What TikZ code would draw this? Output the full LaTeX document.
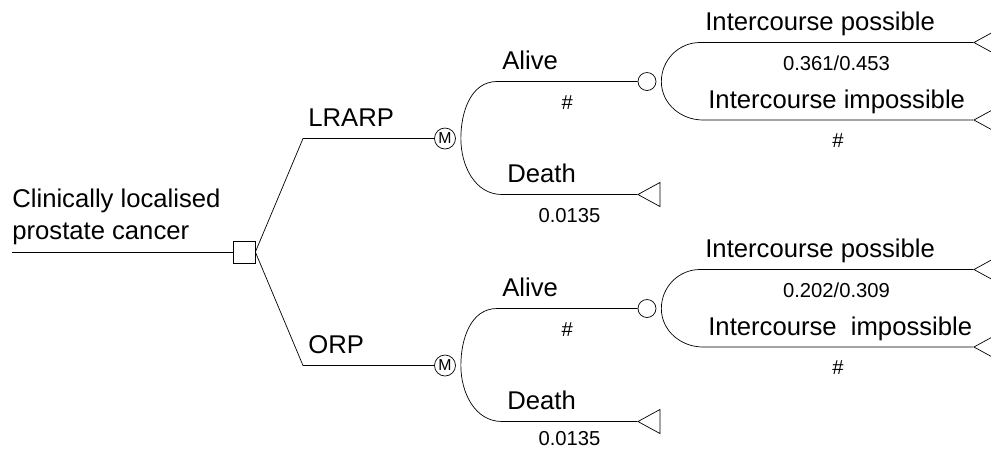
\documentclass[tikz,border=0pt]{standalone}
\usepackage{fontspec}
\setmainfont{Liberation Sans}
\usetikzlibrary{positioning, shapes.geometric}

\tikzset{
  decision/.style={draw, rectangle, minimum size=0.44cm, inner sep=0pt},
  markov/.style={draw, circle, minimum size=0.42cm, inner sep=0pt, font=\fontsize{9}{9}\selectfont},
  chance/.style={draw, circle, minimum size=0.36cm, inner sep=0pt},
  terminal/.style={draw, isosceles triangle, shape border rotate=180, isosceles triangle stretches,
    minimum width=0.48cm, minimum height=0.44cm, inner sep=0pt},
  branch/.style={pos=0, anchor=base west, inner sep=0pt, xshift=0.1cm, yshift=0.24cm,
    font=\fontsize{14.6}{18.2}\selectfont},
  prob/.style={midway, anchor=base, inner sep=0pt, yshift=-0.55cm, font=\fontsize{11.5}{13}\selectfont}
}

\begin{document}
\begin{tikzpicture}[on grid, node distance=2cm]

    \useasboundingbox (0,0) rectangle (19.82,-9.02);
    \clip (0,0) rectangle (19.82,-9.02);

    \coordinate (root) at (0.24,-5.04);
    \node[decision] (dec) [right=4.64cm of root, anchor=center] {};

    % LRARP arm
    \coordinate[above right=2.27cm and 1.18cm of dec] (lrarp);
    \node[markov] (m_l) [right=2.84cm of lrarp, anchor=center] {M};
    \coordinate[above right=1.14cm and 1.04cm of m_l] (l_alive);
    \coordinate[below right=1.12cm and 1.14cm of m_l] (l_death);
    \node[chance] (c_l) [right=3cm of l_alive, anchor=center] {};
    \node[terminal] (t_ld) [right=2.7cm of l_death, anchor=apex] {};
    \coordinate[above right=0.78cm and 1.06cm of c_l] (l_pos);
    \coordinate[below right=0.77cm and 1.12cm of c_l] (l_imp);
    \node[terminal] (t_lp) [right=5.46cm of l_pos, anchor=apex] {};
    \node[terminal] (t_li) [right=5.4cm of l_imp, anchor=apex] {};

    % ORP arm
    \coordinate[below right=2.27cm and 1.18cm of dec] (orp);
    \node[markov] (m_o) [right=2.84cm of orp, anchor=center] {M};
    \coordinate[above right=1.14cm and 1.04cm of m_o] (o_alive);
    \coordinate[below right=1.12cm and 1.14cm of m_o] (o_death);
    \node[chance] (c_o) [right=3cm of o_alive, anchor=center] {};
    \node[terminal] (t_od) [right=2.7cm of o_death, anchor=apex] {};
    \coordinate[above right=0.78cm and 1.06cm of c_o] (o_pos);
    \coordinate[below right=0.77cm and 1.12cm of c_o] (o_imp);
    \node[terminal] (t_op) [right=5.46cm of o_pos, anchor=apex] {};
    \node[terminal] (t_oi) [right=5.4cm of o_imp, anchor=apex] {};

    \draw (root) node[anchor=south west, inner sep=0pt, yshift=0.14cm, align=left,
        font=\fontsize{14.6}{18.2}\selectfont] {Clinically localised\\prostate cancer} -- (dec);
    \draw (dec.east) -- (lrarp) -- node[branch] {LRARP} (m_l);
    \draw (dec.east) -- (orp) -- node[branch] {ORP} (m_o);

    \draw ([xshift=0.1cm]m_l.east) to[out=90,in=180] (l_alive)
        -- node[branch] {Alive} node[prob] {\#} (c_l);
    \draw ([xshift=0.1cm]m_l.east) to[out=-90,in=180] (l_death)
        -- node[branch] {Death} node[prob] {0.0135} (t_ld);
    \draw ([xshift=0.1cm]c_l.east) to[out=90,in=180] (l_pos)
        -- node[branch] {Intercourse possible} node[prob] {0.361/0.453} (t_lp);
    \draw ([xshift=0.1cm]c_l.east) to[out=-90,in=180] (l_imp)
        -- node[branch] {Intercourse impossible} node[prob] {\#} (t_li);

    \draw ([xshift=0.1cm]m_o.east) to[out=90,in=180] (o_alive)
        -- node[branch] {Alive} node[prob] {\#} (c_o);
    \draw ([xshift=0.1cm]m_o.east) to[out=-90,in=180] (o_death)
        -- node[branch] {Death} node[prob, yshift=0.08cm] {0.0135} (t_od);
    \draw ([xshift=0.1cm]c_o.east) to[out=90,in=180] (o_pos)
        -- node[branch] {Intercourse possible} node[prob] {0.202/0.309} (t_op);
    \draw ([xshift=0.1cm]c_o.east) to[out=-90,in=180] (o_imp)
        -- node[branch] {Intercourse\ \ impossible} node[prob] {\#} (t_oi);

\end{tikzpicture}
\end{document}
